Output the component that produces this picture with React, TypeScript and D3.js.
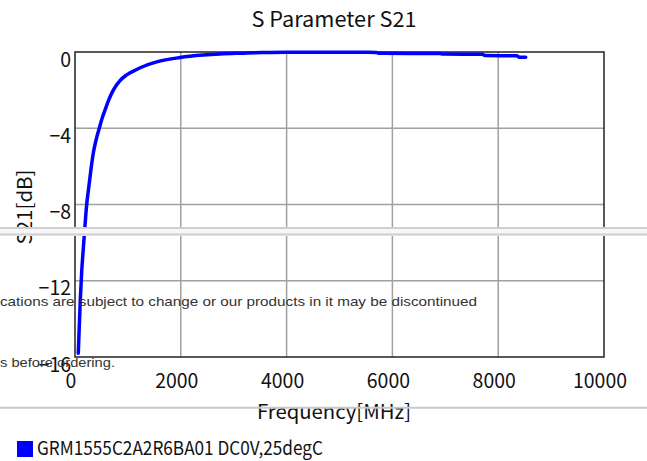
import * as d3 from "d3";

// S21 curve (MHz, dB)
const freqMHz = [
  62, 100, 127, 160, 189, 221, 251, 300, 346, 400, 459, 510, 567, 640, 724,
  850, 977, 1166, 1291, 1544, 1985, 2420, 2740, 3200, 3550, 4000, 5000, 5700,
  5750, 6900, 6950, 7700, 7750, 8350, 8400, 8520,
];
const s21dB = [
  -15.8, -13.0, -11.5, -10.2, -9.1, -8.0, -7.3, -6.2, -5.3, -4.6, -4.0, -3.5,
  -3.05, -2.5, -2.0, -1.5, -1.2, -0.92, -0.76, -0.52, -0.29, -0.16, -0.1,
  -0.06, -0.03, -0.01, -0.01, -0.02, -0.07, -0.08, -0.11, -0.12, -0.19, -0.2,
  -0.27, -0.28,
];
const xTicks = [0, 2000, 4000, 6000, 8000, 10000];
const yTicks = [0, -4, -8, -12, -16];
const seriesName = "GRM1555C2A2R6BA01 DC0V,25degC";
const title = "S Parameter S21";
const xTitle = "Frequency[MHz]";
const yTitle = "S21[dB]";
const noticeLine1 =
  "cations are subject to change or our products in it may be discontinued";
const noticeLine2 = "s before ordering.";

const W = 647;
const H = 461;
const margin = { top: 52, right: 43, bottom: 104, left: 75 };
const gothic = "'Noto Sans CJK JP', 'Noto Sans', sans-serif";
const charW = 10.8;

export default function App() {
  const x = d3
    .scaleLinear()
    .domain([0, 10000])
    .range([margin.left, W - margin.right]);
  const y = d3
    .scaleLinear()
    .domain([-16, 0])
    .range([H - margin.bottom, margin.top]);

  const pts: [number, number][] = freqMHz.map((f, i) => [f, s21dB[i]]);
  const line = d3
    .line<[number, number]>()
    .x((d) => x(d[0]))
    .y((d) => y(d[1]))
    .curve(d3.curveMonotoneX);

  const fmt = (v: number) => (v < 0 ? "\u2212" + Math.abs(v) : String(v));

  return (
    <svg
      width={W}
      height={H}
      style={{ position: "absolute", left: 0, top: 0, background: "#fff" }}
    >
      {/* title */}
      <text
        x={334}
        y={27}
        textAnchor="middle"
        fontFamily={gothic}
        fontSize={21}
        textLength={165}
        lengthAdjust="spacingAndGlyphs"
        fill="#111"
      >
        {title}
      </text>

      {/* grid */}
      {xTicks.slice(1, -1).map((t) => (
        <line
          key={"gx" + t}
          x1={x(t)}
          x2={x(t)}
          y1={y(0)}
          y2={y(-16)}
          stroke="#a0a0a0"
          strokeWidth={1.5}
        />
      ))}
      {yTicks.slice(1, -1).map((t) => (
        <line
          key={"gy" + t}
          x1={x(0)}
          x2={x(10000)}
          y1={y(t)}
          y2={y(t)}
          stroke="#a0a0a0"
          strokeWidth={1.5}
        />
      ))}
      <rect
        x={x(0)}
        y={y(0)}
        width={x(10000) - x(0)}
        height={y(-16) - y(0)}
        fill="none"
        stroke="#222"
        strokeWidth={1.5}
      />

      {/* tick labels */}
      {xTicks.map((t) => {
        const s = String(t);
        return (
          <text
            key={"tx" + t}
            x={x(t) - 4}
            y={387.5}
            textAnchor="middle"
            fontFamily={gothic}
            fontSize={20}
            textLength={s.length * charW}
            lengthAdjust="spacingAndGlyphs"
            fill="#111"
          >
            {s}
          </text>
        );
      })}
      {yTicks.map((t) => {
        const s = fmt(t);
        return (
          <text
            key={"ty" + t}
            x={71}
            y={y(t) + 14.5}
            textAnchor="end"
            fontFamily={gothic}
            fontSize={20}
            textLength={s.length * charW}
            lengthAdjust="spacingAndGlyphs"
            fill="#111"
          >
            {s}
          </text>
        );
      })}

      {/* axis titles */}
      <text
        transform="translate(32,207) rotate(-90)"
        textAnchor="middle"
        fontFamily={gothic}
        fontSize={20}
        textLength={75}
        lengthAdjust="spacingAndGlyphs"
        fill="#111"
      >
        {yTitle}
      </text>
      <text
        x={334}
        y={419}
        textAnchor="middle"
        fontFamily={gothic}
        fontSize={20}
        textLength={154}
        lengthAdjust="spacingAndGlyphs"
        fill="#111"
      >
        {xTitle}
      </text>

      {/* series */}
      <path
        d={line(pts) ?? ""}
        fill="none"
        stroke="#0000ff"
        strokeWidth={3.5}
        strokeLinejoin="round"
        strokeLinecap="round"
      />

      {/* legend */}
      <rect x={17} y={441} width={16} height={16} fill="#0000ff" />
      <text
        x={37}
        y={455}
        fontFamily={gothic}
        fontSize={19}
        textLength={286}
        lengthAdjust="spacingAndGlyphs"
        fill="#111"
      >
        {seriesName}
      </text>

      {/* page overlay remnants */}
      <text
        x={0}
        y={306}
        fontFamily="'Liberation Sans', Arial, sans-serif"
        fontSize={13.5}
        textLength={477}
        lengthAdjust="spacingAndGlyphs"
        fill="#333"
      >
        {noticeLine1}
      </text>
      <text
        x={0}
        y={367}
        fontFamily="'Liberation Sans', Arial, sans-serif"
        fontSize={13.5}
        textLength={115}
        lengthAdjust="spacingAndGlyphs"
        fill="#333"
      >
        {noticeLine2}
      </text>
      <rect x={0} y={227} width={W} height={9} fill="#f6f6f6" />
      <line x1={0} x2={W} y1={228} y2={228} stroke="#cfcfcf" strokeWidth={2} />
      <line x1={0} x2={W} y1={234.5} y2={234.5} stroke="#cfcfcf" strokeWidth={2} />
      <line x1={0} x2={W} y1={407.7} y2={407.7} stroke="#c8c8c8" strokeWidth={2} />
    </svg>
  );
}
